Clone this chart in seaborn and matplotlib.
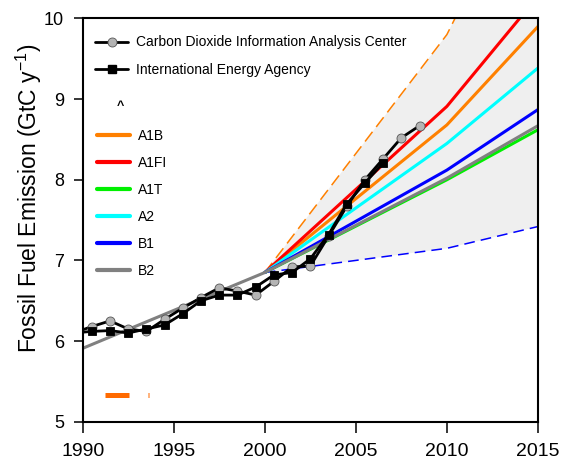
"""
Fossil fuel emissions: observations (CDIAC, IEA) vs. IPCC SRES scenarios
"""

import numpy as np
import pandas as pd
import matplotlib
matplotlib.use("Agg")
import matplotlib.pyplot as plt
import seaborn as sns
from matplotlib.lines import Line2D

# Observations (GtC/yr), plotted at mid-year
cdiac_years = [1989.5, 1990.5, 1991.5, 1992.5, 1993.5, 1994.5, 1995.5, 1996.5, 1997.5, 1998.5,
               1999.5, 2000.5, 2001.5, 2002.5, 2003.5, 2004.5, 2005.5, 2006.5, 2007.5, 2008.5]
cdiac_vals = [6.10, 6.18, 6.25, 6.15, 6.12, 6.27, 6.41, 6.54, 6.66, 6.62,
              6.57, 6.74, 6.92, 6.93, 7.30, 7.67, 8.00, 8.26, 8.52, 8.67]
iea_years = [1989.5, 1990.5, 1991.5, 1992.5, 1993.5, 1994.5, 1995.5, 1996.5, 1997.5, 1998.5,
             1999.5, 2000.5, 2001.5, 2002.5, 2003.5, 2004.5, 2005.5, 2006.5]
iea_vals = [6.10, 6.12, 6.13, 6.10, 6.15, 6.20, 6.34, 6.50, 6.57, 6.57,
            6.67, 6.82, 6.85, 7.02, 7.32, 7.70, 7.96, 8.21]

# SRES scenarios
scen_years = [2000, 2010, 2020]
a1b_vals = [6.85, 8.68, 11.12]
a1fi_vals = [6.85, 8.91, 11.64]
a1t_vals = [6.85, 8.00, 9.24]
a2_vals = [6.85, 8.45, 10.32]
b1_vals = [6.85, 8.12, 9.62]
b2_years = [1990, 2000, 2010, 2020]
b2_vals = [5.91, 6.85, 8.02, 9.32]

# Envelope of all SRES marker scenarios
envelope_upper = [6.85, 9.80, 14.30]
envelope_lower = [6.85, 7.15, 7.69]

# stray orange mark near bottom-left
stray_x = [1991.2, 1992.55]
stray_y = [5.33, 5.33]
stray_tick_x = [1993.56, 1993.64]

scen_names = ['A1B', 'A1FI', 'A1T', 'A2', 'B1', 'B2']
scen_colors = ['#ff8000', '#ff0000', '#00f000', '#00ffff', '#0000ff', '#808080']

sns.set_theme(style="ticks")
plt.rcParams['font.family'] = ['Liberation Sans', 'DejaVu Sans']
plt.rcParams['text.color'] = 'black'
plt.rcParams['axes.labelcolor'] = 'black'
plt.rcParams['xtick.color'] = 'black'
plt.rcParams['ytick.color'] = 'black'

# long-form table for the scenarios
rows = []
for name, vals in zip(scen_names[:-1], [a1b_vals, a1fi_vals, a1t_vals, a2_vals, b1_vals]):
    for yr, v in zip(scen_years, vals):
        rows.append({'year': yr, 'value': v, 'scenario': name})
for yr, v in zip(b2_years, b2_vals):
    rows.append({'year': yr, 'value': v, 'scenario': 'B2'})
scen_df = pd.DataFrame(rows)

fig = plt.figure(figsize=(5.68, 4.68), dpi=100)
ax = fig.add_axes([0.1456, 0.0989, 0.8014, 0.8616])

# grey envelope + dashed bounds
ax.fill_between(scen_years, envelope_lower, envelope_upper, color='#efefef', lw=0, zorder=0.5)
ax.plot(scen_years, envelope_upper, color='#ff8000', lw=1.1, dashes=(8, 4), zorder=1)
ax.plot(scen_years, envelope_lower, color='#0000ff', lw=1.1, dashes=(7, 4), zorder=1)

sns.lineplot(data=scen_df, x='year', y='value', hue='scenario', hue_order=scen_names,
             palette=dict(zip(scen_names, scen_colors)), linewidth=2.2, legend=False,
             sort=True, ax=ax, zorder=2)

# observations
sns.lineplot(x=cdiac_years, y=cdiac_vals, color='black', linewidth=2, marker='o',
             markersize=6.5, markerfacecolor='#b4b4b4', markeredgecolor='#555555',
             markeredgewidth=0.6, ax=ax, zorder=3)
sns.lineplot(x=iea_years, y=iea_vals, color='black', linewidth=2, marker='s',
             markersize=6, markerfacecolor='black', markeredgecolor='black',
             markeredgewidth=0.6, ax=ax, zorder=4)

ax.plot(stray_x, stray_y, color='#ff6a00', lw=3.6, solid_capstyle='butt', zorder=2)
ax.plot(stray_tick_x, stray_y, color='#ff6a00', lw=3.6, solid_capstyle='butt', zorder=2)

ax.text(1992.05, 8.92, '^', ha='center', va='center', fontsize=9, fontweight='bold')

# legends
obs_handles = [
    Line2D([], [], color='black', lw=2, marker='o', ms=6.5, mfc='#b4b4b4', mec='#555555', mew=0.6),
    Line2D([], [], color='black', lw=2, marker='s', ms=6, mfc='black', mec='black'),
]
leg1 = ax.legend(obs_handles, ['Carbon Dioxide Information Analysis Center', 'International Energy Agency'],
                 loc='upper left', bbox_to_anchor=(0.027, 0.958), frameon=False, borderpad=0,
                 borderaxespad=0, handlelength=2.4, handletextpad=0.58, labelspacing=0.97, fontsize=10)
ax.add_artist(leg1)
scen_handles = [Line2D([], [], color=c, lw=3) for c in scen_colors]
ax.legend(scen_handles, scen_names, loc='upper left', bbox_to_anchor=(0.031, 0.726),
          frameon=False, borderpad=0, borderaxespad=0, handlelength=2.4, handletextpad=0.58,
          labelspacing=0.94, fontsize=10)

ax.set_xlim(1990, 2015)
ax.set_ylim(5, 10)
ax.set_xticks(range(1990, 2016, 5))
ax.set_yticks(range(5, 11))
ax.tick_params(axis='x', length=8, width=1.1, pad=7, labelsize=14, direction='out')
ax.tick_params(axis='y', length=6.5, width=1.1, pad=7, labelsize=13, direction='out')
for sp in ax.spines.values():
    sp.set_linewidth(1.5)
    sp.set_color('black')
ax.set_xlabel('')
ax.set_ylabel('Fossil Fuel Emission (GtC y$^{\\mathregular{-1}}$)', fontsize=16.5)
ax.yaxis.set_label_coords(-0.085, 0.555)

fig.savefig('out.png', dpi=100)
